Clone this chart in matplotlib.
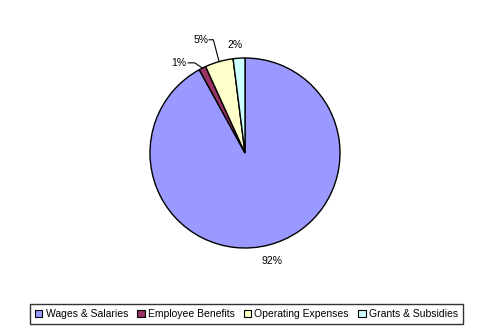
import numpy as np
import matplotlib
matplotlib.use("Agg")
import matplotlib.pyplot as plt
from matplotlib.patches import Patch

plt.rcParams['font.family'] = ['Liberation Sans', 'DejaVu Sans']

categories = ["Wages & Salaries", "Employee Benefits", "Operating Expenses", "Grants & Subsidies"]
shares = [92.0, 1.2, 4.8, 2.0]
labels = ["92%", "1%", "5%", "2%"]
colors = ["#9999FF", "#993366", "#FFFFCC", "#CCFFFF"]

fig = plt.figure(figsize=(4.91, 3.33), dpi=100)
W, H = 491, 333
cx, cy, r = 245, 153, 95
ax = fig.add_axes([(cx - r) / W, (H - cy - r) / H, 2 * r / W, 2 * r / H])

wedges, _ = ax.pie(shares, colors=colors, startangle=90, counterclock=False,
                   wedgeprops=dict(edgecolor="black", linewidth=1.0))
ax.set_xlim(-1, 1)
ax.set_ylim(-1, 1)
ax.set_aspect("equal")
ax.axis("off")

fs = 7.5
for w, lab in zip(wedges, labels):
    mid = np.deg2rad((w.theta1 + w.theta2) / 2)
    ex, ey = np.cos(mid), np.sin(mid)
    if lab == "1%":
        # small slice: elbow leader going up-left
        bx, by = ex - 0.08, ey + 0.055
        tx = bx - 0.09
        ax.plot([ex, bx, tx + 0.02], [ey, by, by], color="black", lw=0.8, clip_on=False)
        ax.text(tx, by, lab, ha="right", va="center", fontsize=fs, clip_on=False)
    elif lab == "5%":
        bx, by = ex - 0.06, ey + 0.23
        tx = bx - 0.055
        ax.plot([ex, bx, tx + 0.01], [ey, by, by], color="black", lw=0.8, clip_on=False)
        ax.text(tx, by, lab, ha="right", va="center", fontsize=fs, clip_on=False)
    elif lab == "2%":
        ax.text(ex - 0.04, ey + 0.14, lab, ha="center", va="center", fontsize=fs, clip_on=False)
    else:
        ax.text(ex * 1.15, ey * 1.15 - 0.02, lab, ha="center", va="center", fontsize=fs, clip_on=False)

handles = [Patch(facecolor=c, edgecolor="black", linewidth=0.8) for c in colors]
leg = fig.legend(handles, categories, loc="center", bbox_to_anchor=(246.5 / W, 1 - 314 / H),
                 ncol=4, fontsize=fs, frameon=True, fancybox=False,
                 handlelength=0.7, handleheight=0.7, handletextpad=0.3,
                 columnspacing=0.9, borderpad=0.5, borderaxespad=0)
leg.get_frame().set_edgecolor("black")
leg.get_frame().set_linewidth(1.0)

fig.savefig("out.png", dpi=100, facecolor="white")
